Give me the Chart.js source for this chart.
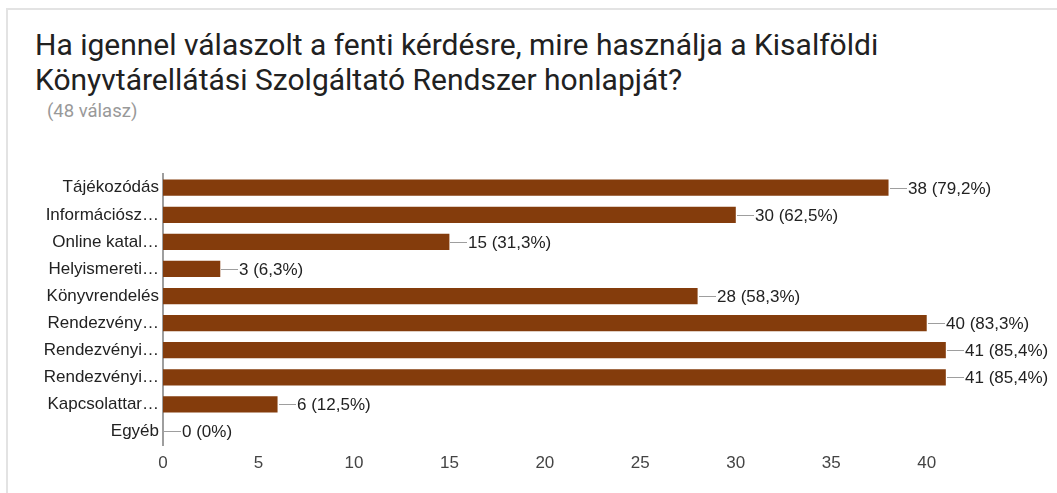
<!DOCTYPE html>
<html>
<head>
<meta charset="utf-8">
<script src="https://cdn.jsdelivr.net/npm/chart.js@4"></script>
<style>
  body { margin: 0; background: #fff; overflow: hidden; }
  .card { position: absolute; left: 6px; top: 8px; width: 1100px; height: 520px; border: 2px solid #e3e3e3; box-sizing: border-box; }
  .title { position: absolute; left: 35px; top: 27px; font-family: Roboto, Arial, sans-serif; font-size: 30px; line-height: 35px; color: #212121; white-space: nowrap; }
  .sub { position: absolute; left: 47px; top: 101px; font-family: Roboto, Arial, sans-serif; font-size: 18.5px; line-height: 20px; color: #999; }
  #wrap { position: absolute; left: 0; top: 160px; width: 1057px; height: 333px; }
</style>
</head>
<body>
<div class="card"></div>
<div class="title">Ha igennel válaszolt a fenti kérdésre, mire használja a Kisalföldi<br>Könyvtárellátási Szolgáltató Rendszer honlapját?</div>
<div class="sub">(48 válasz)</div>
<div id="wrap"><canvas id="chart"></canvas></div>
<script>
var categories = ['Tájékozódás', 'Információsz…', 'Online katal…', 'Helyismereti…', 'Könyvrendelés',
  'Rendezvény…', 'Rendezvényi…', 'Rendezvényi…', 'Kapcsolattar…', 'Egyéb'];
var counts = [38, 30, 15, 3, 28, 40, 41, 41, 6, 0];
var percents = ['79,2%', '62,5%', '31,3%', '6,3%', '58,3%', '83,3%', '85,4%', '85,4%', '12,5%', '0%'];
var tickValues = [0, 5, 10, 15, 20, 25, 30, 35, 40];

var labelFont = '"Liberation Sans", Arial, sans-serif';

var valueLabels = {
  id: 'valueLabels',
  afterDatasetsDraw(chart) {
    var ctx = chart.ctx;
    var meta = chart.getDatasetMeta(0);
    ctx.save();
    ctx.font = '17px ' + labelFont;
    ctx.textBaseline = 'middle';
    ctx.textAlign = 'left';
    meta.data.forEach(function (bar, i) {
      var x = Math.round(bar.x);
      var y = Math.round(bar.y) + 0.5;
      ctx.strokeStyle = '#9e9e9e';
      ctx.lineWidth = 1;
      ctx.beginPath();
      ctx.moveTo(x + 1, y);
      ctx.lineTo(x + 18, y);
      ctx.stroke();
      ctx.fillStyle = '#222';
      ctx.fillText(counts[i] + ' (' + percents[i] + ')', x + 19, y + 1);
    });
    ctx.restore();
  }
};

new Chart(document.getElementById('chart'), {
  type: 'bar',
  data: {
    labels: categories,
    datasets: [{
      data: counts,
      backgroundColor: '#843c0c',
      borderWidth: 0,
      categoryPercentage: 1,
      barPercentage: 0.6
    }]
  },
  options: {
    indexAxis: 'y',
    responsive: true,
    maintainAspectRatio: false,
    animation: false,
    layout: { padding: { left: 0, right: 73, top: 13, bottom: 18 } },
    plugins: { legend: { display: false }, tooltip: { enabled: false } },
    scales: {
      x: {
        min: 0,
        max: 43,
        afterBuildTicks: function (scale) {
          scale.ticks = tickValues.map(function (v) { return { value: v }; });
        },
        afterFit: function (scale) { scale.height = 30; },
        grid: { display: false, drawTicks: false },
        border: { display: false },
        ticks: {
          color: '#444',
          padding: 8,
          font: { family: labelFont, size: 17 }
        }
      },
      y: {
        afterFit: function (scale) { scale.width = 163; },
        grid: { display: false, drawTicks: false },
        border: { display: true, color: '#9e9e9e', width: 2 },
        ticks: {
          color: '#222',
          padding: 4,
          autoSkip: false,
          font: { family: labelFont, size: 17 }
        }
      }
    }
  },
  plugins: [valueLabels]
});
</script>
</body>
</html>
